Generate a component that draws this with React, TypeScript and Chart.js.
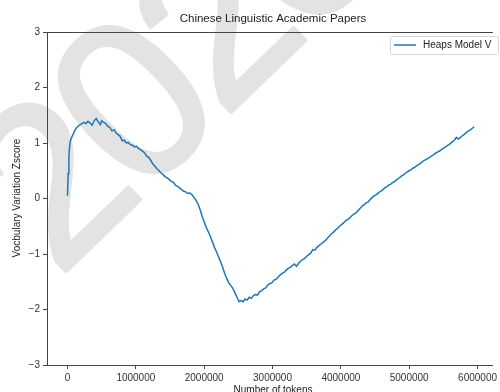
import React, { useEffect, useRef } from "react";
import { Chart, registerables } from "chart.js";

Chart.register(...registerables);

const chartTitle = "Chinese Linguistic Academic Papers";
const xAxisLabel = "Number of tokens";
const yAxisLabel = "Vocbulary Variation Zscore";
const seriesLabel = "Heaps Model V";
const watermarkText = "2020";

// token counts in millions
const tokensM: number[] = [
  0, 0.01, 0.02, 0.03, 0.04, 0.06, 0.08, 0.1, 0.13, 0.16, 0.2, 0.24, 0.27, 0.3, 0.33, 0.36, 0.39, 0.42, 0.45, 0.48,
  0.5, 0.53, 0.56, 0.59, 0.62, 0.65, 0.68, 0.71, 0.74, 0.77, 0.8, 0.83, 0.86, 0.89, 0.92, 0.95, 0.98, 1.01, 1.04, 1.07,
  1.1, 1.13, 1.16, 1.19, 1.22, 1.25, 1.28, 1.31, 1.34, 1.37, 1.4, 1.43, 1.46, 1.49, 1.52, 1.55, 1.58, 1.61, 1.64, 1.67,
  1.7, 1.73, 1.76, 1.79, 1.82, 1.85, 1.88, 1.91, 1.94, 1.97, 2.0, 2.03, 2.06, 2.09, 2.12, 2.15, 2.18, 2.21, 2.24, 2.27,
  2.3, 2.33, 2.36, 2.39, 2.42, 2.45, 2.48, 2.51, 2.54, 2.57, 2.6, 2.63, 2.66, 2.69, 2.72, 2.75, 2.78, 2.81, 2.84, 2.87,
  2.9, 2.93, 2.96, 2.99, 3.02, 3.05, 3.08, 3.11, 3.14, 3.17, 3.2, 3.23, 3.26, 3.29, 3.32, 3.35, 3.38, 3.41, 3.44, 3.47,
  3.5, 3.53, 3.56, 3.59, 3.62, 3.65, 3.68, 3.71, 3.74, 3.77, 3.8, 3.83, 3.86, 3.89, 3.92, 3.95, 3.98, 4.01, 4.04, 4.07,
  4.1, 4.13, 4.16, 4.19, 4.22, 4.25, 4.28, 4.31, 4.34, 4.37, 4.4, 4.43, 4.46, 4.49, 4.52, 4.55, 4.58, 4.61, 4.64, 4.67,
  4.7, 4.73, 4.76, 4.79, 4.82, 4.85, 4.88, 4.91, 4.94, 4.97, 5.0, 5.03, 5.06, 5.09, 5.12, 5.15, 5.18, 5.21, 5.24, 5.27,
  5.3, 5.33, 5.36, 5.39, 5.42, 5.45, 5.48, 5.51, 5.54, 5.57, 5.6, 5.63, 5.66, 5.69, 5.72, 5.75, 5.78, 5.81, 5.84, 5.87,
  5.9, 5.93, 5.95,
];

const zscore: number[] = [
  0.05, 0.45, 0.75, 0.92, 1.03, 1.1, 1.15, 1.21, 1.27, 1.31, 1.34, 1.37, 1.35, 1.39, 1.36, 1.32, 1.4, 1.44, 1.38, 1.33,
  1.4, 1.37, 1.35, 1.3, 1.28, 1.22, 1.24, 1.18, 1.15, 1.12, 1.04, 1.05, 1.0, 1.01, 0.97, 0.96, 0.93, 0.94, 0.9, 0.88,
  0.85, 0.82, 0.76, 0.74, 0.68, 0.62, 0.58, 0.53, 0.5, 0.46, 0.43, 0.39, 0.37, 0.34, 0.31, 0.29, 0.24, 0.22, 0.19, 0.16,
  0.13, 0.12, 0.09, 0.1, 0.07, 0.02, -0.03, -0.1, -0.2, -0.32, -0.42, -0.52, -0.6, -0.68, -0.78, -0.88, -0.96, -1.05, -1.14, -1.24,
  -1.35, -1.44, -1.52, -1.57, -1.62, -1.7, -1.78, -1.86, -1.84, -1.86, -1.81, -1.83, -1.78, -1.8, -1.75, -1.73, -1.74, -1.68, -1.66, -1.63,
  -1.61, -1.56, -1.53, -1.52, -1.47, -1.46, -1.42, -1.38, -1.35, -1.33, -1.29, -1.26, -1.24, -1.21, -1.18, -1.22, -1.17, -1.13, -1.1, -1.08,
  -1.04, -1.01, -0.98, -0.92, -0.93, -0.88, -0.85, -0.82, -0.79, -0.76, -0.72, -0.68, -0.64, -0.61, -0.57, -0.54, -0.5, -0.47, -0.44, -0.4,
  -0.38, -0.35, -0.31, -0.28, -0.26, -0.22, -0.18, -0.14, -0.11, -0.08, -0.06, -0.02, 0.02, 0.05, 0.07, 0.1, 0.13, 0.15, 0.19, 0.21,
  0.24, 0.26, 0.29, 0.31, 0.34, 0.37, 0.4, 0.42, 0.45, 0.48, 0.5, 0.52, 0.55, 0.57, 0.6, 0.62, 0.65, 0.68, 0.7, 0.72,
  0.74, 0.77, 0.79, 0.82, 0.84, 0.86, 0.89, 0.91, 0.94, 0.96, 0.99, 1.02, 1.05, 1.1, 1.07, 1.1, 1.13, 1.16, 1.19, 1.22,
  1.24, 1.27, 1.29,
];

const xTickValues: number[] = [0, 1000000, 2000000, 3000000, 4000000, 5000000, 6000000];
const yTickValues: number[] = [-3, -2, -1, 0, 1, 2, 3];

const LINE_COLOR = "#1f77b4";
const FONT = "'Liberation Sans', Arial, sans-serif";

const watermarkPlugin = {
  id: "watermark",
  beforeDraw(chart: any) {
    const { ctx } = chart;
    ctx.save();
    ctx.translate(58, 279);
    ctx.rotate((-44 * Math.PI) / 180);
    ctx.fillStyle = "#e3e3e3";
    ctx.strokeStyle = "#e3e3e3";
    ctx.lineWidth = 4;
    ctx.lineJoin = "round";
    ctx.font = `226px ${FONT}`;
    (ctx as any).letterSpacing = "-11px";
    ctx.textAlign = "left";
    ctx.textBaseline = "alphabetic";
    ctx.fillText(watermarkText, 0, 0);
    ctx.strokeText(watermarkText, 0, 0);
    ctx.restore();
  },
};

const decorPlugin = {
  id: "decor",
  afterDraw(chart: any) {
    const { ctx, chartArea } = chart;
    const { left, top, right, bottom } = chartArea;
    ctx.save();
    ctx.strokeStyle = "#444";
    ctx.lineWidth = 1;
    ctx.beginPath();
    ctx.moveTo(left + 0.5, top);
    ctx.lineTo(left + 0.5, bottom);
    ctx.moveTo(left, top + 0.5);
    ctx.lineTo(right, top + 0.5);
    ctx.moveTo(left, bottom + 0.5);
    ctx.lineTo(right, bottom + 0.5);
    ctx.stroke();

    ctx.fillStyle = "#222";
    ctx.font = `11.5px ${FONT}`;
    ctx.textAlign = "center";
    ctx.textBaseline = "middle";
    ctx.fillText(chartTitle, 273, 19);

    ctx.font = `10px ${FONT}`;
    ctx.fillText(xAxisLabel, 273, 390);

    ctx.save();
    ctx.translate(17, 198);
    ctx.rotate(-Math.PI / 2);
    ctx.fillText(yAxisLabel, 0, 0);
    ctx.restore();

    const lx = 390.5, ly = 36.5, lw = 108, lh = 18;
    ctx.fillStyle = "rgba(255,255,255,0.8)";
    ctx.strokeStyle = "#d6d6d6";
    ctx.lineWidth = 1;
    ctx.beginPath();
    (ctx as any).roundRect(lx, ly, lw, lh, 2);
    ctx.fill();
    ctx.stroke();
    ctx.strokeStyle = LINE_COLOR;
    ctx.lineWidth = 1.5;
    ctx.beginPath();
    ctx.moveTo(394, 45);
    ctx.lineTo(416, 45);
    ctx.stroke();
    ctx.fillStyle = "#222";
    ctx.textAlign = "left";
    ctx.font = `10px ${FONT}`;
    ctx.fillText(seriesLabel, 423, 45.5);
    ctx.restore();
  },
};

export default function App() {
  const ref = useRef<HTMLCanvasElement | null>(null);
  useEffect(() => {
    document.body.style.margin = "0";
    const canvas = ref.current;
    if (!canvas) return;
    const data = tokensM.map((t, i) => ({ x: t * 1000000, y: zscore[i] }));
    const chart = new Chart(canvas, {
      type: "line",
      data: {
        datasets: [
          {
            label: seriesLabel,
            data,
            borderColor: LINE_COLOR,
            borderWidth: 1.5,
            pointRadius: 0,
            fill: false,
            tension: 0,
          },
        ],
      },
      options: {
        animation: false,
        responsive: false,
        devicePixelRatio: 1,
        layout: { padding: { top: 32, right: 0, left: 0, bottom: 0 } },
        plugins: {
          legend: { display: false },
          title: { display: false },
          tooltip: { enabled: false },
        },
        scales: {
          x: {
            type: "linear",
            min: -300000,
            max: 6225000,
            afterFit: (s: any) => {
              s.height = 27;
            },
            afterBuildTicks: (s: any) => {
              s.ticks = xTickValues.map((v) => ({ value: v }));
            },
            grid: { display: true, drawOnChartArea: false, drawTicks: true, tickLength: 4, color: "#444" },
            border: { display: false },
            ticks: {
              autoSkip: false,
              maxRotation: 0,
              padding: 3,
              color: "#333",
              font: { size: 10, family: FONT },
              callback: (v: any) => String(v),
            },
          },
          y: {
            type: "linear",
            min: -3,
            max: 3,
            afterFit: (s: any) => {
              s.width = 47;
            },
            afterBuildTicks: (s: any) => {
              s.ticks = yTickValues.map((v) => ({ value: v }));
            },
            grid: { display: true, drawOnChartArea: false, drawTicks: true, tickLength: 4, color: "#444" },
            border: { display: false },
            ticks: {
              padding: 3,
              color: "#333",
              font: { size: 10, family: FONT },
              callback: (v: any) => (Number(v) < 0 ? "\u2212" + Math.abs(Number(v)) : String(v)),
            },
          },
        },
      },
      plugins: [watermarkPlugin, decorPlugin],
    });
    return () => chart.destroy();
  }, []);
  return (
    <div style={{ width: 500, height: 392, overflow: "hidden" }}>
      <canvas ref={ref} width={500} height={392} />
    </div>
  );
}
